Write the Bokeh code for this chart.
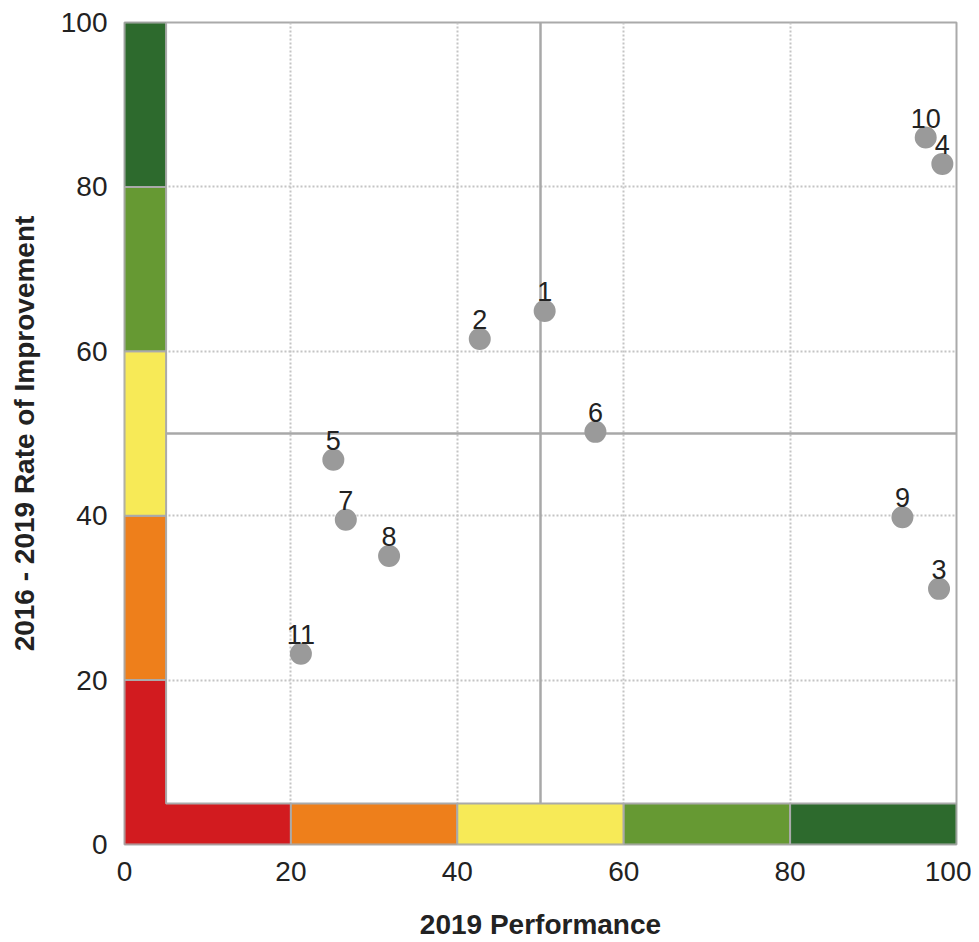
from bokeh.plotting import figure
from bokeh.models import Range1d, FixedTicker, ColumnDataSource
from bokeh.core.properties import value
from bokeh.embed import file_html
from bokeh.resources import INLINE

# ---- data ----
labels = ["1", "2", "3", "4", "5", "6", "7", "8", "9", "10", "11"]
performance = [50.5, 42.7, 97.9, 98.3, 25.1, 56.6, 26.6, 31.8, 93.5, 96.3, 21.2]
improvement = [64.9, 61.5, 31.1, 82.8, 46.8, 50.2, 39.5, 35.1, 39.8, 86.0, 23.2]

band_edges = [0, 20, 40, 60, 80, 100]
band_colors = ["#d21b1f", "#ee7f1b", "#f7ea57", "#669933", "#2d6a2d"]
band_width = 5
midpoint = 50
ticks = [0, 20, 40, 60, 80, 100]

FONT = "Liberation Sans"

p = figure(width=971, height=942, output_backend="svg", toolbar_location=None,
           x_range=Range1d(0, 100), y_range=Range1d(0, 100),
           min_border_left=124, min_border_right=15, min_border_top=22, min_border_bottom=97)

p.background_fill_color = "white"
p.border_fill_color = "white"
p.outline_line_color = "#aaaaaa"
p.outline_line_width = 2

for ax in (p.xaxis, p.yaxis):
    ax.ticker = FixedTicker(ticks=ticks)
    ax.axis_line_color = None
    ax.major_tick_line_color = None
    ax.minor_tick_line_color = None
    ax.major_label_text_font = FONT
    ax.major_label_text_font_size = "28px"
    ax.major_label_text_color = "#222222"
    ax.axis_label_text_font = FONT
    ax.axis_label_text_font_size = "28px"
    ax.axis_label_text_font_style = "bold"
    ax.axis_label_text_color = "#222222"

p.xaxis.axis_label = "2019 Performance"
p.yaxis.axis_label = "2016 - 2019 Rate of Improvement"
p.xaxis.major_label_standoff = 11
p.yaxis.major_label_standoff = 11
p.xaxis.axis_label_standoff = 25
p.yaxis.axis_label_standoff = 18

for g in (p.xgrid, p.ygrid):
    g.ticker = FixedTicker(ticks=ticks[1:-1])
    g.grid_line_color = "#c4c4c4"
    g.grid_line_width = 2
    g.grid_line_dash = "2 2"

# quadrant lines
p.segment(x0=[midpoint, 0], y0=[0, midpoint], x1=[midpoint, 100], y1=[100, midpoint],
          line_color="#a8a8a8", line_width=2.5)

# colour bands (the first band is an L-shape joining both axes)
e1 = band_edges[1]
w = band_width
p.patch(x=[0, e1, e1, w, w, 0], y=[0, 0, w, w, e1, e1],
        fill_color=band_colors[0], line_color="#aaaaaa", line_width=2)
lx0, lx1, ly0, ly1, lc = [], [], [], [], []
for i in range(1, len(band_colors)):
    # left band
    lx0.append(0); lx1.append(w); ly0.append(band_edges[i]); ly1.append(band_edges[i + 1]); lc.append(band_colors[i])
    # bottom band
    lx0.append(band_edges[i]); lx1.append(band_edges[i + 1]); ly0.append(0); ly1.append(w); lc.append(band_colors[i])
p.quad(left=lx0, right=lx1, bottom=ly0, top=ly1, fill_color=lc,
       line_color="#aaaaaa", line_width=2)

src = ColumnDataSource(dict(x=performance, y=improvement, label=labels))
p.scatter("x", "y", source=src, size=22, fill_color="#9a9a9a", line_color=None)
p.text("x", "y", text="label", source=src, text_align="center", text_baseline="bottom",
       y_offset=-10, text_font=value(FONT), text_font_size="27px", text_color="#222222")

open("out.html", "w").write(file_html(p, INLINE))
